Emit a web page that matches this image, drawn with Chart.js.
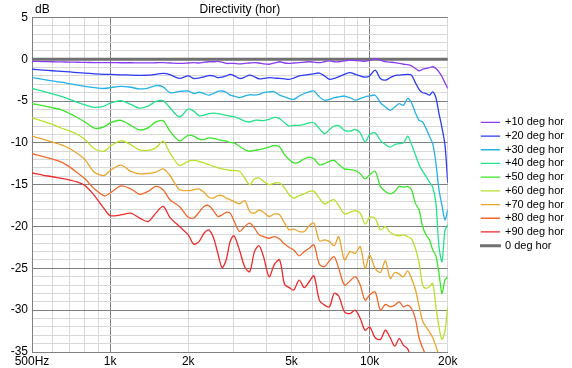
<!DOCTYPE html>
<html>
<head>
<meta charset="utf-8">
<title>Directivity (hor)</title>
<script src="https://cdn.jsdelivr.net/npm/chart.js@4.4.0/dist/chart.umd.min.js"></script>
<style>
  body { margin: 0; background: #fff; }
  #wrap { width: 572px; height: 368px; }
</style>
</head>
<body>
<div id="wrap"><canvas id="dirChart" width="572" height="368"></canvas></div>
<script>
// frequencies (Hz) shared by the off-axis curves
const freqs = [500, 550, 600, 650, 700, 750, 800, 870, 950, 1000, 1100, 1200, 1300, 1400, 1500, 1600, 1700, 1850, 2000,
  2100, 2200, 2300, 2400, 2500, 2600, 2700, 2800, 2900, 3000,
  3150, 3300, 3450, 3600, 3750, 3900,
  4100, 4300, 4500, 4700, 4900,
  5100, 5350, 5600, 5850,
  6100, 6400, 6700, 7000, 7300, 7600,
  8000, 8400, 8800, 9200, 9600, 10000,
  10500, 11000, 11500, 12000, 12500, 13000, 13500, 14000, 14500, 15000,
  15500, 16000, 16500, 17000, 17500, 18000, 18500, 19000, 19500, 20000];

// dB, normalised to on-axis
const deg10 = [-0.25, -0.28, -0.3, -0.32, -0.34, -0.36, -0.38, -0.4, -0.4, -0.4, -0.42, -0.42, -0.44, -0.44, -0.42, -0.4, -0.45, -0.5, -0.45,
  -0.4, -0.45, -0.35, -0.3, -0.3, -0.25, -0.35, -0.5, -0.5, -0.5,
  -0.55, -0.5, -0.45, -0.4, -0.45, -0.55,
  -0.6, -0.45, -0.3, -0.45, -0.5,
  -0.45, -0.4, -0.35, -0.3,
  -0.35, -0.4, -0.3, -0.2, -0.3, -0.3,
  -0.2, -0.1, -0.15, -0.2, -0.25, -0.15,
  0.05, -0.1, -0.3, -0.35, -0.4, -0.5, -0.6, -0.65, -0.8, -1.1,
  -1.4, -1.2, -1.1, -1.0, -0.9, -1.1, -1.5, -2.1, -2.8, -3.5];
const deg20 = [-1.2, -1.3, -1.38, -1.45, -1.52, -1.6, -1.66, -1.74, -1.8, -1.82, -1.86, -1.9, -1.92, -1.9, -1.8, -1.7, -1.85, -2.3, -2.0,
  -2.3, -2.25, -2.1, -1.95, -2.0, -2.2, -2.15, -2.0, -1.8, -1.95,
  -2.3, -2.15, -1.9, -2.1, -2.35, -2.3,
  -2.2, -2.25, -2.3, -2.35, -2.4,
  -2.25, -2.0, -1.9, -1.8,
  -1.75, -1.65, -2.0, -2.4, -2.3, -2.1,
  -1.8, -1.6, -1.8, -2.0, -2.15, -2.0,
  -1.3, -2.3, -2.5, -2.2, -1.95, -1.9, -1.85, -1.8, -1.9, -2.8,
  -3.6, -4.0, -4.1, -4.3, -3.9, -4.6, -6.5, -8.2, -10.2, -14.8];
const deg30 = [-2.2, -2.4, -2.6, -2.75, -2.95, -3.1, -3.25, -3.4, -3.5, -3.4, -3.25, -3.35, -3.55, -3.45, -3.15, -3.3, -4.0, -3.85, -3.8,
  -4.1, -3.95, -4.1, -4.3, -4.1, -3.85, -3.8, -3.95, -4.3, -4.4,
  -4.6, -4.4, -4.25, -4.3, -4.2, -4.0,
  -3.9, -3.9, -4.3, -4.5, -4.7,
  -4.8, -4.4, -4.1, -3.9,
  -3.8, -4.5, -4.9, -4.8, -4.6, -4.5,
  -4.4, -4.6, -4.9, -4.7, -4.5, -4.4,
  -4.3, -5.2, -5.7, -6.1, -5.7, -5.3, -5.5, -4.7, -5.2, -6.4,
  -7.3, -7.5, -8.3, -9.2, -10.1, -12.4, -15.6, -17.5, -19.2, -18.0];
const deg40 = [-3.5, -3.8, -4.15, -4.45, -4.8, -5.15, -5.45, -5.75, -5.6, -5.25, -4.95, -5.4, -5.85, -5.6, -5.05, -4.95, -5.8, -6.9, -5.95,
  -6.2, -6.75, -6.7, -6.5, -6.45, -6.5, -6.6, -6.7, -6.8, -6.85,
  -7.1, -7.4, -7.5, -7.3, -7.3, -7.35,
  -7.2, -6.95, -7.1, -7.6, -8.0,
  -7.9, -7.9, -7.8, -7.6,
  -7.6, -8.3, -8.9, -8.4, -8.0, -7.95,
  -8.5, -8.6, -8.4, -8.8, -9.9, -9.0,
  -8.8, -9.7, -10.2, -10.5, -10.2, -10.1, -10.0, -9.2, -10.2, -11.4,
  -12.6, -13.4, -14.0, -14.7, -15.3, -17.2, -22.4, -24.2, -20.5, -19.8];
const deg50 = [-5.3, -5.55, -5.8, -6.05, -6.5, -7.0, -7.5, -8.25, -8.1, -7.6, -7.3, -7.9, -8.45, -8.2, -7.5, -7.35, -8.6, -9.75, -9.1,
  -9.2, -9.55, -9.6, -9.4, -9.45, -9.6, -9.7, -9.8, -9.95, -10.0,
  -10.4, -10.8, -11.0, -10.9, -10.8, -10.7,
  -10.5, -10.3, -10.5, -11.4, -12.0,
  -12.4, -12.3, -11.9, -11.7,
  -11.9, -12.6, -12.5, -12.2, -12.1, -12.6,
  -13.1, -13.2, -13.3, -13.7, -14.3, -13.8,
  -13.4, -15.2, -15.8, -16.1, -15.8, -15.2, -15.3, -15.2, -15.6, -17.2,
  -18.0, -20.0, -21.0, -21.6, -22.8, -23.5, -25.6, -28.0, -26.4, -26.0];
const deg60 = [-7.0, -7.4, -7.8, -8.25, -8.6, -9.0, -9.6, -10.7, -11.0, -10.4, -9.75, -10.2, -10.85, -10.9, -10.6, -9.8, -11.2, -12.7, -12.2,
  -12.1, -12.2, -12.4, -12.6, -12.8, -12.95, -13.1, -13.2, -13.3, -13.3,
  -13.4, -14.2, -15.0, -14.3, -14.2, -14.6,
  -15.0, -14.8, -14.8, -15.4, -16.2,
  -16.6, -16.3, -16.1, -15.8,
  -15.8, -16.6, -17.3, -17.0, -16.8, -17.5,
  -18.5, -18.3, -18.1, -18.4, -19.7, -18.9,
  -19.0, -20.4, -20.0, -20.7, -21.0, -21.1, -21.0, -21.2, -21.5, -22.6,
  -24.3, -27.0, -27.4, -27.2, -26.8, -29.6, -32.0, -33.5, -32.5, -29.6];
const deg70 = [-9.2, -9.55, -9.9, -10.25, -10.7, -11.3, -12.0, -13.5, -13.9, -13.3, -12.65, -13.4, -13.7, -13.65, -13.5, -13.1, -13.9, -15.6, -15.7,
  -15.6, -15.5, -15.9, -16.5, -16.6, -16.3, -16.3, -16.6, -16.8, -17.0,
  -17.3, -16.9, -18.2, -18.4, -18.0, -18.3,
  -18.8, -18.5, -18.6, -19.6, -20.4,
  -20.3, -20.6, -20.6, -19.9,
  -19.6, -21.7, -21.6, -21.8, -22.3, -21.2,
  -24.0, -23.0, -23.2, -22.4, -25.0, -23.4,
  -25.0, -25.5, -24.1, -26.2, -25.5, -25.7, -26.0, -25.3, -26.2, -27.5,
  -29.5, -31.3, -32.0, -32.6, -33.3, -34.3, -35.4, -36.5, -37.0, -37.5];
const deg80 = [-11.3, -11.6, -11.95, -12.3, -12.9, -13.6, -14.3, -15.5, -16.35, -16.0, -15.15, -15.5, -16.15, -15.8, -15.2, -15.6, -16.8, -17.6, -18.9,
  -19.0, -18.3, -17.6, -17.5, -18.1, -18.8, -18.6, -18.3, -18.4, -19.3,
  -20.6, -20.0, -19.6, -20.2, -21.0, -21.2,
  -21.4, -21.2, -21.5, -22.1, -22.5,
  -22.8, -23.5, -23.0, -22.6,
  -22.2, -24.5, -24.8, -24.1, -23.6, -25.0,
  -27.0, -26.5, -26.0, -27.0, -28.8, -28.2,
  -27.8, -30.0, -29.3, -29.6, -29.4, -29.0, -29.6, -29.4, -29.8, -31.0,
  -33.3, -34.5, -35.5, -36.5, -37.5, -38.0, -38.5, -39.0, -39.5, -40.0];
const deg90 = [-13.6, -13.85, -14.05, -14.25, -14.45, -14.7, -15.1, -16.3, -17.9, -18.7, -18.6, -18.4, -19.0, -19.4, -18.4, -17.6, -18.9, -20.0, -21.0,
  -22.1, -21.8, -20.8, -20.4, -21.3, -23.2, -24.9, -24.0, -21.8, -21.1,
  -22.8, -24.8, -25.4, -23.0, -22.3, -23.6,
  -26.0, -24.5, -24.0, -26.9, -27.3,
  -27.6, -26.4, -27.3, -26.6,
  -25.9, -28.8, -29.4, -29.6, -28.0, -28.3,
  -30.2, -30.4, -30.0, -31.0, -32.4, -32.0,
  -33.3, -33.5, -32.4, -33.3, -34.3, -33.4, -34.2, -34.6, -36.0, -37.0,
  -37.5, -38.0, -38.5, -39.0, -39.5, -40.0, -40.0, -40.5, -41.0, -41.0];

// on-axis reference
const refFreqs = [500, 20000];
const deg0 = [0, 0];

const seriesLabels = ['+10 deg hor', '+20 deg hor', '+30 deg hor', '+40 deg hor', '+50 deg hor',
  '+60 deg hor', '+70 deg hor', '+80 deg hor', '+90 deg hor'];
const refLabel = '0 deg hor';

// axis ticks
const xGridFreqs = [500, 600, 700, 800, 900, 1000, 2000, 3000, 4000, 5000, 6000, 7000, 8000, 9000, 10000, 20000];
const xMajorFreqs = [1000, 10000];
const xLabelFreqs = [500, 1000, 2000, 5000, 10000, 20000];
const xLabelText = ['500Hz', '1k', '2k', '5k', '10k', '20k'];

const seriesColors = ['#8a3cf0', '#2f3cf2', '#25b2e6', '#25e38c', '#3ce62a', '#b8e12a', '#eca42a', '#f0682a', '#ee2a2a'];
const FONT = '"Liberation Sans", Arial, sans-serif';
Chart.defaults.font.family = FONT;
Chart.defaults.color = '#000';

const series = [deg10, deg20, deg30, deg40, deg50, deg60, deg70, deg80, deg90];
const datasets = series.map((vals, i) => ({
    label: seriesLabels[i],
    data: freqs.map((f, j) => ({ x: f, y: vals[j] })),
    borderColor: seriesColors[i],
    backgroundColor: seriesColors[i],
    borderWidth: 1.3,
    pointRadius: 0,
    tension: 0.3,
    fill: false
}));
datasets.push({
    label: refLabel,
    data: refFreqs.map((f, j) => ({ x: f, y: deg0[j] })),
    borderColor: '#707070',
    backgroundColor: '#707070',
    borderWidth: 3,
    pointRadius: 0,
    fill: false
});

// small "dB" caption above the y axis
const dbCaption = {
    id: 'dbCaption',
    afterDraw(chart) {
        const ctx = chart.ctx;
        ctx.save();
        ctx.font = '12px ' + FONT;
        ctx.fillStyle = '#000';
        ctx.textBaseline = 'middle';
        ctx.fillText('dB', chart.chartArea.left + 3, 10);
        ctx.restore();
    }
};

new Chart(document.getElementById('dirChart').getContext('2d'), {
    type: 'line',
    data: { datasets: datasets },
    plugins: [dbCaption],
    options: {
        responsive: false,
        animation: false,
        devicePixelRatio: 1,
        layout: { padding: { right: -2 } },
        plugins: {
            title: {
                display: true,
                text: 'Directivity (hor)',
                fullSize: false,
                color: '#000',
                font: { size: 12, weight: 'normal' },
                padding: { top: 2, bottom: 1 }
            },
            legend: {
                position: 'right',
                labels: {
                    boxWidth: 18,
                    boxHeight: 0.01,
                    padding: 2.7,
                    color: '#000',
                    font: { size: 11 }
                }
            },
            tooltip: { enabled: false }
        },
        scales: {
            x: {
                type: 'logarithmic',
                min: 500,
                max: 20000,
                afterBuildTicks: s => { s.ticks = xGridFreqs.map(v => ({ value: v })); },
                afterFit: s => { s.height = 16; },
                border: { color: '#808080' },
                grid: {
                    drawTicks: false,
                    color: c => (c.tick && xMajorFreqs.includes(c.tick.value)) ? '#808080' : '#d9d9d9'
                },
                ticks: {
                    autoSkip: false,
                    maxRotation: 0,
                    padding: 2,
                    font: { size: 12 },
                    callback: v => {
                        const k = xLabelFreqs.indexOf(v);
                        return k >= 0 ? xLabelText[k] : '';
                    }
                }
            },
            y: {
                min: -35,
                max: 5,
                afterFit: s => { s.width = 32; },
                border: { color: '#808080' },
                grid: {
                    drawTicks: false,
                    color: c => (c.tick && c.tick.value % 5 === 0) ? '#808080' : '#d9d9d9'
                },
                ticks: {
                    stepSize: 1,
                    autoSkip: false,
                    padding: 4,
                    font: { size: 12 },
                    callback: v => (v % 5 === 0 ? String(v) : '')
                }
            },
            yGap: {
                position: 'right',
                afterFit: s => { s.width = 31; },
                grid: { display: false, drawTicks: false },
                border: { display: false },
                ticks: { display: false }
            }
        }
    }
});
</script>
</body>
</html>
